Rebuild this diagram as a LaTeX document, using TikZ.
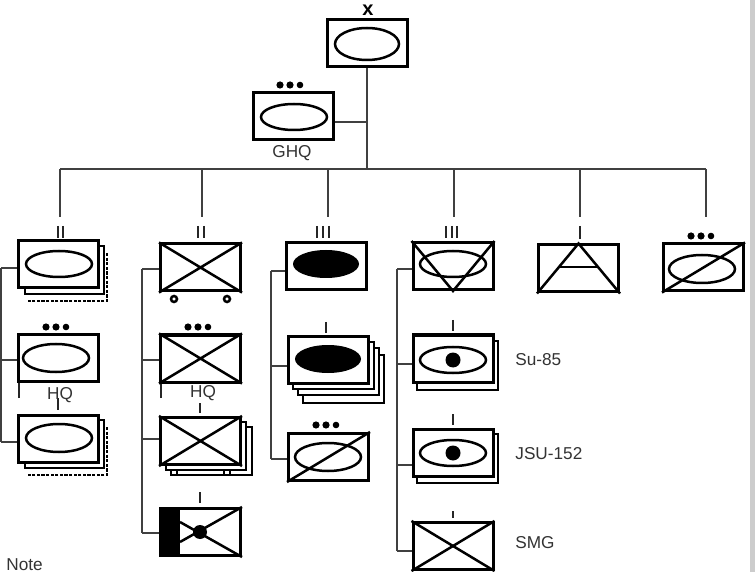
\documentclass[tikz,border=0pt]{standalone}
\usepackage{fontspec}
\setmainfont{Liberation Sans}
\tikzset{
  unitbox/.style={draw, line width=1.5pt, fill=white, minimum width=40pt, minimum height=23.5pt, inner sep=0pt},
  backbox/.style={draw, line width=1.4pt, fill=white},
  dashbox/.style={draw, line width=1.4pt, dash pattern=on 1.6pt off 0.7pt},
  mark line/.style={line width=1.25pt},
  link/.style={line width=0.9pt, color=black!75},
  tick/.style={line width=1.3pt, color=black!85},
  tag/.style={font=\fontsize{8.6}{10}\selectfont, text=black!80, inner sep=0pt},
}
\newcommand{\threedots}[2]{%
  \fill (#1-10,#2) circle (3.6) (#1,#2) circle (3.6) (#1+10,#2) circle (3.3);}
\newcommand{\crossbox}[1]{%
  \draw[mark line] (#1.north west) -- (#1.south east) (#1.south west) -- (#1.north east);}
\begin{document}
\begin{tikzpicture}[x=0.5pt, y=-0.5pt]
  \useasboundingbox (0,0) rectangle (755,572);
  \fill[black!20] (750,0) rectangle (755,572);

  % Upper part and bus
  \coordinate (busL) at (60,169);
  \coordinate (busR) at (706,169);
  \node[unitbox] (top) at (367,43) {};
  \node[unitbox] (ghq) at (293,116.5) {};
  \draw[mark line] (367,44) circle [x radius=32, y radius=16];
  \draw[mark line] (294,117) circle [x radius=33, y radius=13];
  \threedots{290}{85}
  \node[font=\bfseries\fontsize{10}{10}\selectfont, inner sep=0pt] (topmark) at (368,10) {x};
  \node[tag] (ghqname) at (292,153) {GHQ};
  \draw[link] (top.south) -- (top.south |- busL);
  \draw[link] (ghq.east |- 0,122) -- (top.south |- 0,122);
  \draw[link] (busL) -- (busR);

  % Drops from the bus
  \foreach \dropx/\dropn in {60/a, 202/b, 328/c, 454/d, 580/e, 706/f} {
    \coordinate (drop\dropn) at (\dropx,217);
    \draw[link] (drop\dropn) -- (drop\dropn |- busL);
  }

  % Column A
  \coordinate (spineAtop) at (1,268);
  \coordinate (spineAbot) at (1,442);
  \coordinate (stubA) at (19,398);
  \draw[link] (spineAtop) -- (spineAbot);
  \draw[dashbox] (107,253) -- (107,301) -- (28,301);
  \draw[backbox] (25,246) rectangle (104,294);
  \node[unitbox] (a1) at (58.5,264) {};
  \draw[mark line] (59,264) circle [x radius=33, y radius=13];
  \draw[tick] (stubA) -- (stubA |- 0,382);
  \node[unitbox] (a2) at (58.5,358) {};
  \draw[mark line] (56,358) circle [x radius=33, y radius=14];
  \threedots{56}{327}
  \draw[dashbox] (107,427) -- (107,475) -- (28,475);
  \draw[backbox] (25,420) rectangle (104,468);
  \node[unitbox] (a3) at (58.5,438.5) {};
  \draw[mark line] (59,438) circle [x radius=33, y radius=14];
  \draw[tick] (58,226) -- (58,238) (63,226) -- (63,238);
  \draw[tick] (58,398) -- (58,410);
  \node[tag] (a2name) at (60,395) {HQ};
  \draw[link] (spineAtop) -- (spineAtop -| a1.west);
  \draw[link] (spineAtop |- 0,360) -- (a2.west |- 0,360);
  \draw[link] (spineAbot) -- (spineAbot -| a3.west);

  % Column B
  \coordinate (spineBtop) at (142,269);
  \coordinate (spineBbot) at (142,533);
  \coordinate (stubB) at (161,398);
  \draw[link] (spineBtop) -- (spineBbot);
  \node[unitbox] (b1) at (200.5,267.5) {};
  \crossbox{b1}
  \draw[mark line] (174,299) circle (3) (227,299) circle (3);
  \draw[tick] (stubB) -- (stubB |- 0,383);
  \node[unitbox] (b2) at (200.5,358.5) {};
  \crossbox{b2}
  \threedots{198}{327}
  \draw[backbox] (171,427) rectangle (252,475);
  \draw[backbox] (166,422) rectangle (246,470);
  \draw[mark line, fill=white] (171,470) rectangle (177,475) (224,470) rectangle (230,475);
  \node[unitbox] (b3) at (200.5,441) {};
  \crossbox{b3}
  \node[unitbox] (b4) at (200.5,532) {};
  \fill (b4.north west) rectangle (180,557);
  \fill (200,532) circle (7);
  \draw[mark line] (180,542) -- (b4.north east) (180,522) -- (b4.south east);
  \draw[tick] (198,226) -- (198,238) (204,226) -- (204,238);
  \draw[tick] (200,403) -- (200,413);
  \draw[tick] (200,492) -- (200,503);
  \node[tag] (b2name) at (203,393) {HQ};
  \draw[link] (spineBtop) -- (spineBtop -| b1.west);
  \draw[link] (spineBtop |- 0,360) -- (b2.west |- 0,360);
  \draw[link] (spineBtop |- 0,439) -- (b3.west |- 0,439);
  \draw[link] (spineBbot) -- (spineBbot -| b4.west);

  % Column C
  \coordinate (spineCtop) at (271,271);
  \coordinate (spineCbot) at (271,459);
  \draw[link] (spineCtop) -- (spineCbot);
  \node[unitbox] (c1) at (326.5,266) {};
  \fill (326,264) circle [x radius=33, y radius=14];
  \draw[backbox] (303,355) rectangle (384,403);
  \draw[backbox] (298,348) rectangle (379,395);
  \draw[backbox] (293,342) rectangle (374,389);
  \node[unitbox] (c2) at (328.5,360) {};
  \fill (328,359) circle [x radius=33, y radius=14];
  \node[unitbox] (c3) at (328.5,457) {};
  \draw[mark line] (328,457) circle [x radius=33, y radius=14];
  \draw[mark line] (c3.south west) -- (c3.north east);
  \threedots{326}{425}
  \draw[tick] (317,226) -- (317,238) (323,226) -- (323,238) (329,226) -- (329,238);
  \draw[tick] (326,322) -- (326,333);
  \draw[link] (spineCtop) -- (spineCtop -| c1.west);
  \draw[link] (spineCtop |- 0,366) -- (c2.west |- 0,366);
  \draw[link] (spineCbot) -- (spineCbot -| c3.west);

  % Column D
  \coordinate (spineDtop) at (397,269);
  \coordinate (spineDbot) at (397,551);
  \draw[link] (spineDtop) -- (spineDbot);
  \node[unitbox] (d1) at (453,266) {};
  \draw[mark line] (453,264) circle [x radius=33, y radius=13];
  \draw[mark line] (d1.north west) -- (d1.south) -- (d1.north east);
  \draw[backbox] (417,341) rectangle (498,390);
  \node[unitbox] (d2) at (453,358.5) {};
  \draw[mark line] (453,360) circle [x radius=33, y radius=13];
  \fill (453,360) circle (7.5);
  \draw[backbox] (417,434) rectangle (498,483);
  \node[unitbox] (d3) at (453,453) {};
  \draw[mark line] (453,453) circle [x radius=33, y radius=13];
  \fill (453,453) circle (7.5);
  \node[unitbox] (d4) at (453,546) {};
  \crossbox{d4}
  \draw[tick] (446,226) -- (446,238) (452,226) -- (452,238) (457,226) -- (457,238);
  \draw[tick] (453,320) -- (453,331);
  \draw[tick] (453,414) -- (453,425);
  \draw[tick] (453,511) -- (453,518);
  \node[tag, anchor=west] (d2name) at (515,360) {Su-85};
  \node[tag, anchor=west] (d3name) at (515,454) {JSU-152};
  \node[tag, anchor=west] (d4name) at (515,543) {SMG};
  \draw[link] (spineDtop) -- (spineDtop -| d1.west);
  \draw[link] (spineDtop |- 0,364) -- (d2.west |- 0,364);
  \draw[link] (spineDtop |- 0,465) -- (d3.west |- 0,465);
  \draw[link] (spineDbot) -- (spineDbot -| d4.west);

  % Right-hand boxes
  \node[unitbox] (e1) at (578.5,268.5) {};
  \draw[mark line] (e1.south west) -- (e1.north) -- (e1.south east);
  \draw[mark line] (560,267) -- (597,267);
  \draw[tick, line width=1.4pt] (580,226) -- (580,239);
  \node[unitbox] (f1) at (703.5,267.5) {};
  \draw[mark line] (702,269) circle [x radius=33, y radius=14];
  \draw[mark line] (f1.south west) -- (f1.north east);
  \threedots{701}{236}

  % Line at the foot of the page
  \node[tag, anchor=base west, font=\fontsize{8.6}{10}\selectfont] (footnote) at (6,570) {Note};
\end{tikzpicture}
\end{document}
